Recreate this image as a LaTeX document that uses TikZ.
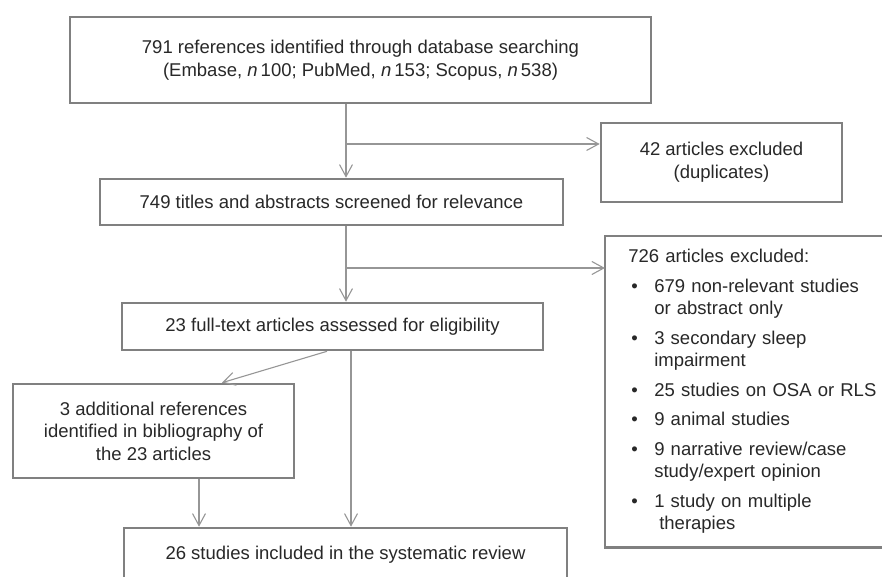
\documentclass[tikz,border=0pt]{standalone}
\usepackage{fontspec}
\setmainfont{Liberation Sans}
\usetikzlibrary{arrows.meta}

\definecolor{boxgray}{RGB}{128,128,128}
\definecolor{linegray}{RGB}{150,150,150}
\definecolor{inkgray}{RGB}{40,40,40}

\begin{document}
\begin{tikzpicture}[x=1pt,y=-1pt,
    stage/.style={rectangle,draw=boxgray,line width=2.6pt,fill=white,text=inkgray,align=center,inner sep=0pt,font=\fontsize{18.5}{23}\selectfont},
    frame/.style={draw=boxgray,line width=2.6pt},
    flow/.style={draw=linegray,line width=1.1pt,-{Straight Barb[length=12pt,width=13pt]}}]
  \path[use as bounding box] (0,0) rectangle (882,577);
  \path

  (360.5,60) node [stage,minimum width=581pt,minimum height=86pt] (refs) {791 references identified through database searching\\(Embase, \textit{n}\,100; PubMed, \textit{n}\,153; Scopus, \textit{n}\,538)}

  (721.5,162.5) node [stage,minimum width=241pt,minimum height=79pt] (dup) {42 articles excluded\\(duplicates)}

  (331.5,202) node [stage,minimum width=463pt,minimum height=46pt] (screen) {749 titles and abstracts screened for relevance}

  %right side runs off the page, frame drawn below
  (605,236) node [stage,draw=none,anchor=north west,align=left,text width=250pt,inner xsep=22pt,minimum height=309pt,font=\fontsize{18.5}{22.5}\selectfont] (excl) {\noindent
    \begin{tabular}{@{}l@{\hspace{16.5pt}}l@{}}
      \multicolumn{2}{@{}l@{}}{726 articles excluded:}\\[7pt]
      \hspace{3pt}• & 679 non-relevant studies\\
                    & or abstract only\\[7pt]
      \hspace{3pt}• & 3 secondary sleep\\
                    & impairment\\[7pt]
      \hspace{3pt}• & 25 studies on OSA or RLS\\[7pt]
      \hspace{3pt}• & 9 animal studies\\[7pt]
      \hspace{3pt}• & 9 narrative review/case\\
                    & study/expert opinion\\[7pt]
      \hspace{3pt}• & 1 study on multiple\\
                    & \hspace{5pt}therapies
    \end{tabular}}

  (332.5,326.5) node [stage,minimum width=421pt,minimum height=47pt] (full) {23 full-text articles assessed for eligibility}

  (153.5,431) node [stage,minimum width=281pt,minimum height=94pt,font=\fontsize{18.5}{22.5}\selectfont] (add) {3 additional references\\identified in bibliography of\\the 23 articles}

  %bottom edge runs off the page
  (345.5,555) node [stage,minimum width=443pt,minimum height=54pt] (incl) {26 studies included in the systematic review}
  ;

  \draw[frame] (excl.north east) -- (excl.north west) -- (excl.south west) -- (excl.south east);

  \coordinate (trunk) at (346,0);
  \coordinate (dupfork) at (346,144);
  \coordinate (exclfork) at (346,268);

  \draw[flow] (trunk |- refs.south) -- (trunk |- screen.north);
  \draw[flow] (dupfork) -- (dupfork -| dup.west);
  \draw[flow] (trunk |- screen.south) -- (trunk |- full.north);
  \draw[flow] (exclfork) -- (exclfork -| excl.west);
  \draw[flow] ([xshift=-5.5pt]full.south) -- ([xshift=68.5pt]add.north);
  \draw[flow] ([xshift=18.5pt]full.south) -- ([xshift=18.5pt]full.south |- incl.north);
  \draw[flow] ([xshift=45.5pt]add.south) -- ([xshift=45.5pt]add.south |- incl.north);
\end{tikzpicture}
\end{document}
